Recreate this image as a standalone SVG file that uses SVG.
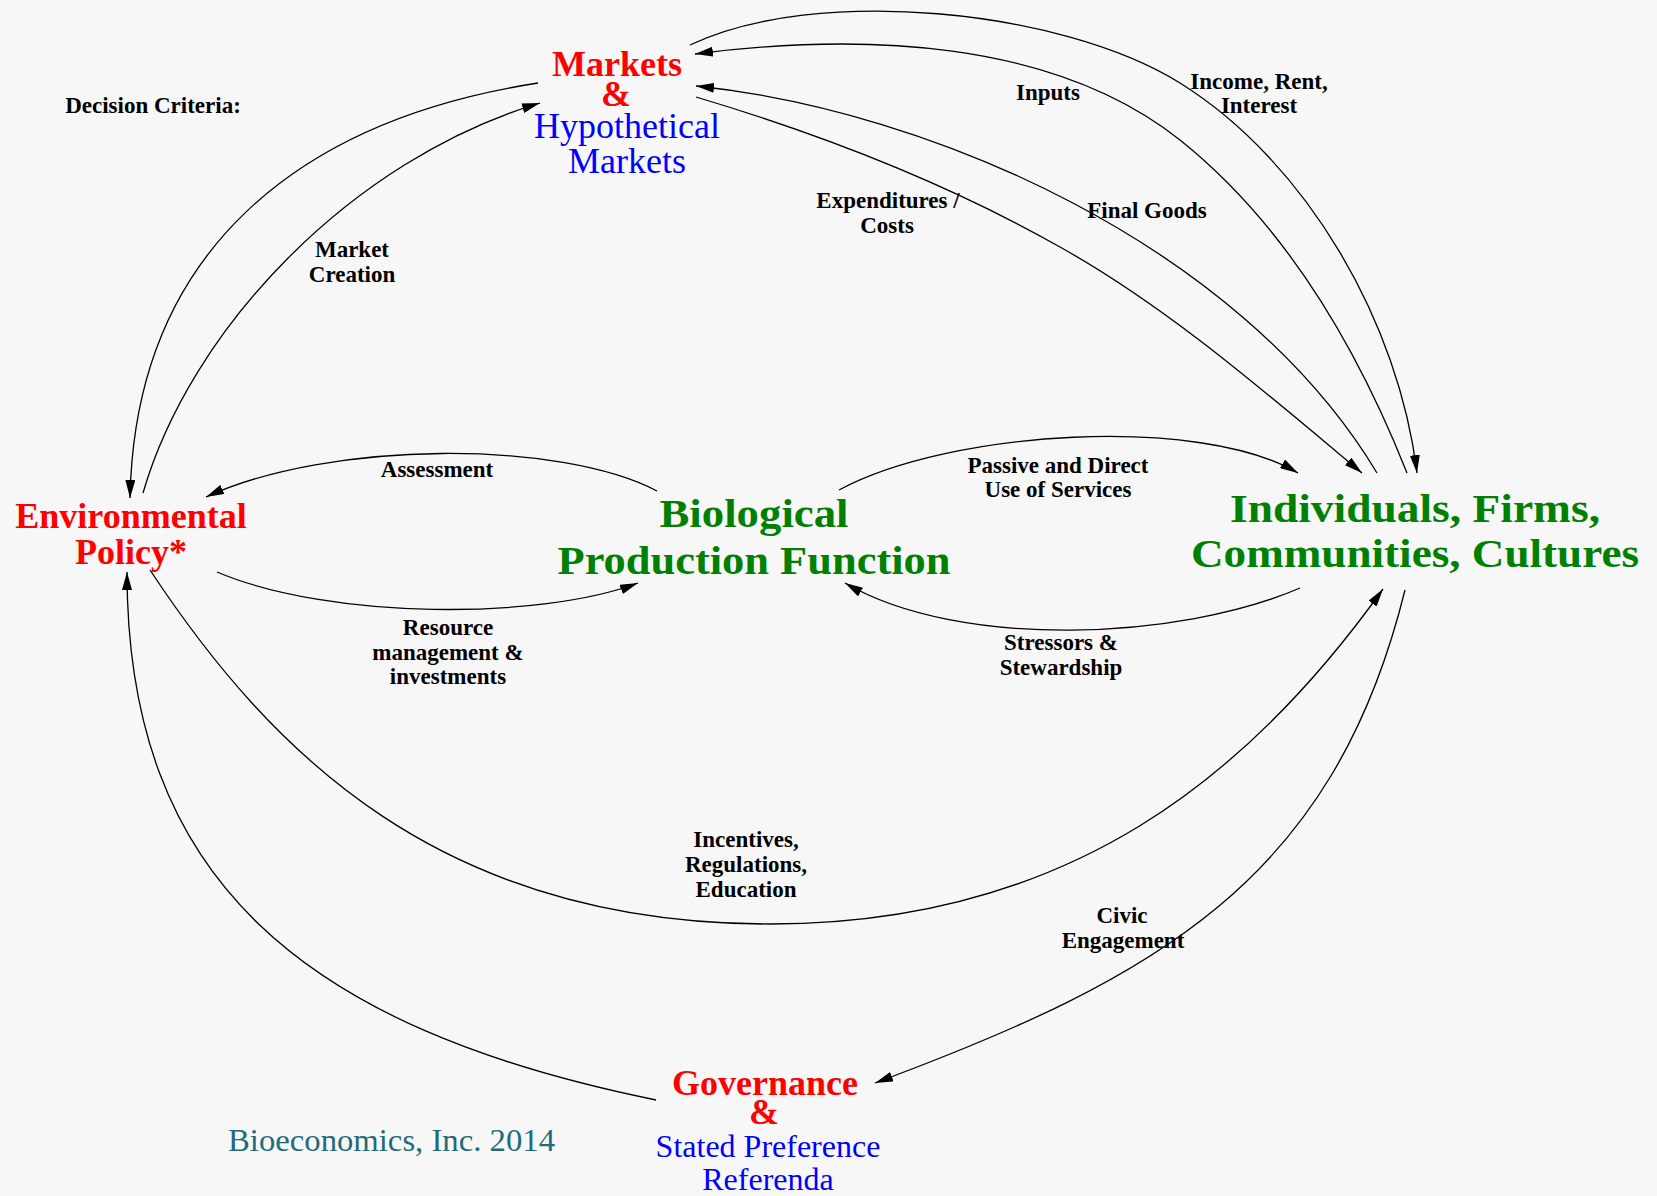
<svg xmlns="http://www.w3.org/2000/svg" width="1657" height="1196" viewBox="0 0 1657 1196">
<defs>
<marker id="arrow" markerUnits="userSpaceOnUse" markerWidth="18" markerHeight="10" refX="18" refY="5" orient="auto">
<path d="M0,0 L18,5 L0,10 Z" fill="#000"/>
</marker>
<style>
.edge{fill:none;stroke:#000;stroke-width:1.3;marker-end:url(#arrow)}
.lbl{font-family:"Liberation Serif","Times New Roman",serif;font-weight:bold;font-size:23px;fill:#000;text-anchor:middle}
.red{font-family:"Liberation Serif","Times New Roman",serif;font-weight:bold;font-size:36px;fill:#ff0000;text-anchor:middle}
.blue{font-family:"Liberation Serif","Times New Roman",serif;font-size:36px;fill:#0000ff;text-anchor:middle}
.blue2{font-family:"Liberation Serif","Times New Roman",serif;font-size:32px;fill:#0000ff;text-anchor:middle}
.green{font-family:"Liberation Serif","Times New Roman",serif;font-weight:bold;font-size:41px;fill:#008000;text-anchor:middle}
.credit{font-family:"Liberation Serif","Times New Roman",serif;font-size:31px;fill:#1e6b7b}
</style>
</defs>
<rect x="0" y="0" width="1657" height="1196" fill="#f7f7f7"/>

<g id="connectors">
<path id="e-decision" class="edge" d="M538,83 C300,120 135,250 130,498"/>
<path id="e-market-creation" class="edge" d="M143,493 C190,330 350,160 540,103"/>
<path id="e-income" class="edge" d="M690,45 C816,-15 1061,9 1180,83 C1308,163 1399,324 1417,473"/>
<path id="e-inputs" class="edge" d="M1407,473 C1357,347 1285,224 1180,140 C1051,38 858,33 695,54"/>
<path id="e-final-goods" class="edge" d="M1377,473 C1240,245 930,110 696,86"/>
<path id="e-expenditures" class="edge" d="M696,97 C820,134 947,183 1060,247 C1169,308 1266,393 1362,473"/>
<path id="e-assessment" class="edge" d="M657,491 C560,440 330,440 206,497"/>
<path id="e-resource" class="edge" d="M217,572 C330,620 540,620 638,583"/>
<path id="e-passive" class="edge" d="M839,490 C950,430 1200,415 1298,473"/>
<path id="e-stressors" class="edge" d="M1300,588 C1180,640 960,650 845,583"/>
<path id="e-incentives" class="edge" d="M150,570 C271,753 440,924 770,924 C1070,924 1250,775 1383,589"/>
<path id="e-civic" class="edge" d="M1405,590 C1333,881 1157,978 875,1083"/>
<path id="e-governance" class="edge" d="M656,1100 C303,1028 127,880 127,572"/>
</g>

<g id="edge-labels">
<text class="lbl" x="153" y="113">Decision Criteria:</text>
<text class="lbl" x="352" y="257">Market</text>
<text class="lbl" x="352" y="282">Creation</text>
<text class="lbl" x="1048" y="100">Inputs</text>
<text class="lbl" x="1259" y="89">Income, Rent,</text>
<text class="lbl" x="1259" y="113">Interest</text>
<text class="lbl" x="888" y="208">Expenditures /</text>
<text class="lbl" x="887" y="233">Costs</text>
<text class="lbl" x="1147" y="218">Final Goods</text>
<text class="lbl" x="437" y="477">Assessment</text>
<text class="lbl" x="1058" y="473">Passive and Direct</text>
<text class="lbl" x="1058" y="497">Use of Services</text>
<text class="lbl" x="448" y="635">Resource</text>
<text class="lbl" x="448" y="660">management &amp;</text>
<text class="lbl" x="448" y="684">investments</text>
<text class="lbl" x="1061" y="650">Stressors &amp;</text>
<text class="lbl" x="1061" y="675">Stewardship</text>
<text class="lbl" x="746" y="847">Incentives,</text>
<text class="lbl" x="746" y="872">Regulations,</text>
<text class="lbl" x="746" y="897">Education</text>
<text class="lbl" x="1122" y="923">Civic</text>
<text class="lbl" x="1123" y="948">Engagement</text>
</g>

<g id="node-markets">
<text class="red" x="617" y="76">Markets</text>
<text class="red" x="616" y="106">&amp;</text>
<text class="blue" x="627" y="138">Hypothetical</text>
<text class="blue" x="627" y="173">Markets</text>
</g>

<g id="node-environmental-policy">
<text class="red" x="131" y="528">Environmental</text>
<text class="red" x="131" y="564">Policy*</text>
</g>

<g id="node-biological">
<text class="green" x="754" y="527" textLength="189" lengthAdjust="spacingAndGlyphs">Biological</text>
<text class="green" x="754" y="574" textLength="393" lengthAdjust="spacingAndGlyphs">Production Function</text>
</g>

<g id="node-individuals">
<text class="green" x="1415" y="522" textLength="370" lengthAdjust="spacingAndGlyphs">Individuals, Firms,</text>
<text class="green" x="1415" y="567" textLength="448" lengthAdjust="spacingAndGlyphs">Communities, Cultures</text>
</g>

<g id="node-governance">
<text class="red" x="765" y="1095">Governance</text>
<text class="red" x="764" y="1124">&amp;</text>
<text class="blue2" x="768" y="1157">Stated Preference</text>
<text class="blue2" x="768" y="1190">Referenda</text>
</g>

<g id="credit">
<text class="credit" x="228" y="1151" textLength="327" lengthAdjust="spacingAndGlyphs">Bioeconomics, Inc. 2014</text>
</g>
</svg>
